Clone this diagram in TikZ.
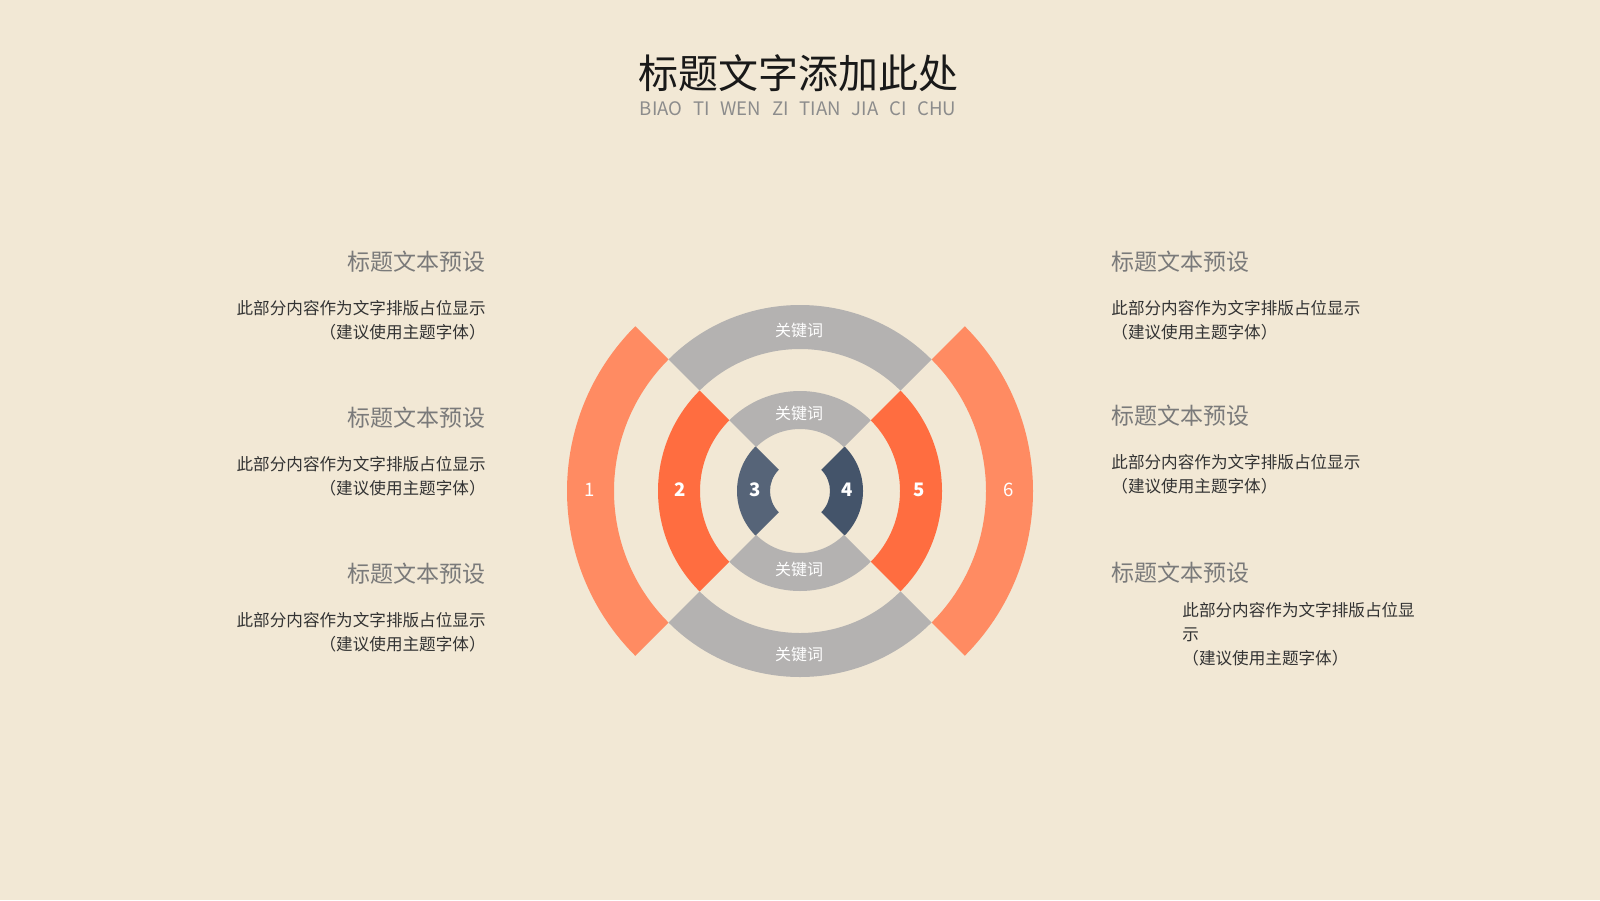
\documentclass[tikz,border=0pt]{standalone}
\usepackage{fontspec}
\setmainfont{Noto Sans CJK SC}
\definecolor{paper}{HTML}{F2E8D5}
\definecolor{ringgrey}{HTML}{B4B2B1}
\definecolor{orangelt}{HTML}{FF8B62}
\definecolor{orangedk}{HTML}{FF6D40}
\definecolor{slatelt}{HTML}{566478}
\definecolor{slatedk}{HTML}{44546A}
\definecolor{headgrey}{HTML}{7A7A7A}
\definecolor{bodytext}{HTML}{333333}
\tikzset{
  heading/.style={inner sep=0pt,text=headgrey,font=\fontsize{11.5}{14}\selectfont},
  bodytxt/.style={inner sep=0pt,text=bodytext,font=\fontsize{8.3}{12}\selectfont},
  keyword/.style={inner sep=0pt,text=white,font=\fontsize{8}{10}\selectfont},
  ringnum/.style={inner sep=0pt,text=white,font=\fontsize{9.3}{11}\selectfont},
}
\newcommand\gap{\hspace{5.4pt}}
\begin{document}
\begin{tikzpicture}[x=0.5pt,y=-0.5pt,line join=round]
				\fill[paper] (0,0) rectangle (1600,900);
				\useasboundingbox (0,0) rectangle (1600,900);
				% title
				\node[inner sep=0pt,text=black!90,font=\fontsize{20}{24}\selectfont] (title) at (798,73) {标题文字添加此处};
				\node[inner sep=0pt,text=black!45,font=\fontsize{9.3}{11}\selectfont] (subtitle) at (798,109) {BIAO\gap TI\gap WEN\gap ZI\gap TIAN\gap JIA\gap CI\gap CHU};
				% rings
				\begin{scope}[shift={(800,491)}]
				\foreach \c/\a/\ri/\ro in {slatelt/135/30/63,slatedk/-45/30/63,
					ringgrey/45/62/100,ringgrey/225/62/100,
					orangedk/135/100/142,orangedk/-45/100/142,
					ringgrey/45/142/186,ringgrey/225/142/186,
					orangelt/135/186/233,orangelt/-45/186/233}
					\fill[\c] (\a:\ri) arc[start angle=\a,end angle=\a+90,radius=\ri]
						-- ({\a+90}:\ro) arc[start angle=\a+90,end angle=\a,radius=\ro] -- cycle;
				\foreach \n/\r in {1/-210,2/-120,3/-45,4/47,5/119,6/209}
					\node[ringnum] (n\n) at (\r,-1) {\ifnum\n>1 \ifnum\n<6 \bfseries\fi\fi\n};
				\foreach \k/\y in {1/-161,2/-78,3/78,4/163}
					\node[keyword] (kw\k) at (-1,\y) {关键词};
				\end{scope}
				% left texts
				\foreach \i/\y in {1/262,2/418,3/574}{
					\node[heading,anchor=east] (lh\i) at (486,\y) {标题文本预设};
					\node[bodytxt,anchor=north east,align=right] (lb\i) at ([yshift=-19pt]lh\i.east) {此部分内容作为文字排版占位显示\\（建议使用主题字体）};
				}
				% right texts
				\foreach \i/\y in {1/262,2/416}{
					\node[heading,anchor=west] (rh\i) at (1111,\y) {标题文本预设};
					\node[bodytxt,anchor=north west,align=left] (rb\i) at ([yshift=-19pt]rh\i.west) {此部分内容作为文字排版占位显示\\（建议使用主题字体）};
				}
				\node[heading,anchor=west] (rh3) at (1111,573) {标题文本预设};
				\node[bodytxt,anchor=north west,align=left] (rb3) at (1182,602) {此部分内容作为文字排版占位显\\示\\（建议使用主题字体）};
			\end{tikzpicture}
\end{document}
